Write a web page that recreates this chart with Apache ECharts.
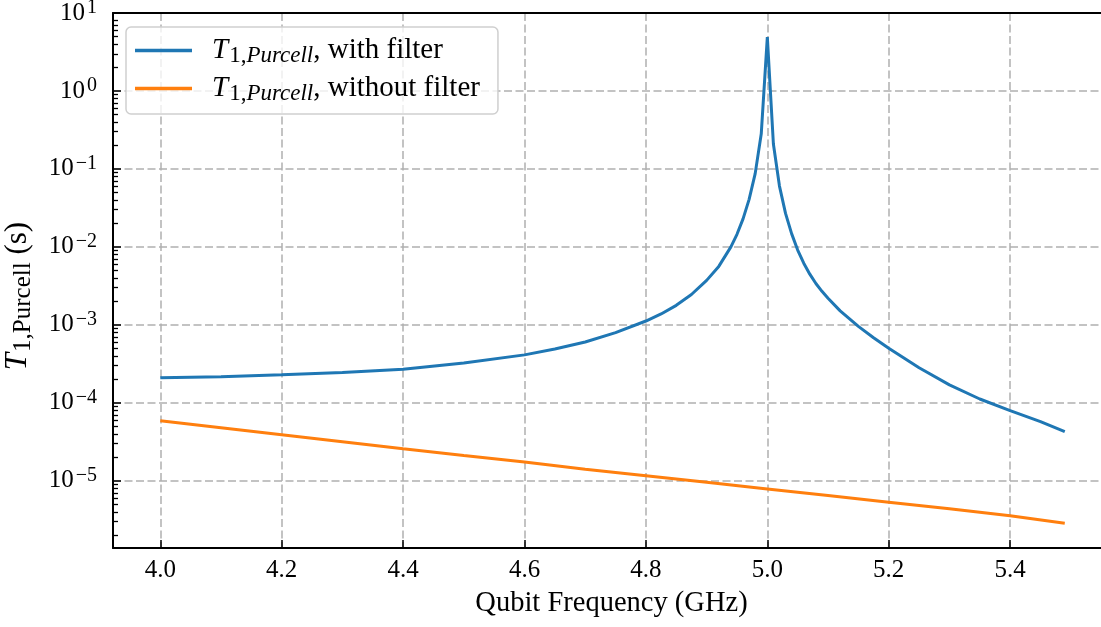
<!DOCTYPE html>
<html>
<head>
<meta charset="utf-8">
<script src="https://cdn.jsdelivr.net/npm/echarts@6/dist/echarts.min.js"></script>
<style>
	html, body { margin: 0; padding: 0; background: #fff; }
	#chart { width: 1101px; height: 627px; }
</style>
</head>
<body>
<div id="chart"></div>
<script>
	// T1 Purcell, with filter (s)
	var filterFreq = [4.0, 4.1, 4.2, 4.3, 4.4, 4.5, 4.6, 4.65, 4.7, 4.75, 4.8, 4.825, 4.85, 4.875, 4.9, 4.92, 4.94, 4.95, 4.96, 4.97, 4.98, 4.99, 5.0,
		5.01, 5.02, 5.03, 5.04, 5.05, 5.06, 5.07, 5.08, 5.09, 5.1, 5.12, 5.15, 5.175, 5.2, 5.25, 5.3, 5.35, 5.4, 5.45, 5.49];
	var filterT1 = [2.09e-4, 2.16e-4, 2.29e-4, 2.45e-4, 2.70e-4, 3.24e-4, 4.12e-4, 4.90e-4, 6.03e-4, 7.94e-4, 1.12e-3, 1.38e-3,
		1.78e-3, 2.45e-3, 3.72e-3, 5.62e-3, 1.0e-2, 1.45e-2, 2.29e-2, 4.07e-2, 8.71e-2, 0.282, 4.9,
		0.209, 0.0603, 0.0269, 0.0148, 9.12e-3, 6.17e-3, 4.47e-3, 3.39e-3, 2.69e-3, 2.19e-3, 1.51e-3, 9.55e-4, 6.84e-4,
		5.01e-4, 2.82e-4, 1.70e-4, 1.12e-4, 7.94e-5, 5.75e-5, 4.27e-5];
	// T1 Purcell, without filter (s)
	var noFilterFreq = [4.0, 4.1, 4.2, 4.3, 4.4, 4.5, 4.6, 4.7, 4.8, 4.9, 5.0, 5.1, 5.2, 5.3, 5.4, 5.49];
	var noFilterT1 = [5.89e-5, 4.79e-5, 3.89e-5, 3.16e-5, 2.57e-5, 2.11e-5, 1.74e-5, 1.41e-5, 1.16e-5, 9.55e-6, 7.85e-6,
		6.46e-6, 5.31e-6, 4.37e-6, 3.55e-6, 2.85e-6];
	// ticks
	var xTicks = [4.0, 4.2, 4.4, 4.6, 4.8, 5.0, 5.2, 5.4];
	var yDecades = [-5, -4, -3, -2, -1, 0, 1];

	var FONT = 'Liberation Serif';
	var X_MIN = 3.9221, X_MAX = 5.5645;
	var Y_MIN = -5.862, Y_MAX = 1;

	function toLog(xs, ys) {
		var out = [];
		for (var i = 0; i < xs.length; i++) {
			out.push([xs[i], Math.log10(ys[i])]);
		}
		return out;
	}

	// minor ticks of the log axis (2..9 x 10^k)
	var minorTicks = [];
	for (var k = -6; k <= 0; k++) {
		for (var m = 2; m <= 9; m++) {
			minorTicks.push(k + Math.log10(m));
		}
	}

	var gridRect = { left: 113, right: -9, top: 13, bottom: 79, outerBoundsMode: 'none', containLabel: false };
	var gridLine = {
		show: true,
		lineStyle: { color: '#b0b0b0', width: 1.5, type: [8, 3.5] }
	};

	var chart = echarts.init(document.getElementById('chart'));
	var options = {
		animation: false,
		grid: [Object.assign({}, gridRect), Object.assign({}, gridRect)],
		legend: {
			left: 126,
			top: 27,
			orient: 'vertical',
			icon: 'rect',
			itemWidth: 57,
			itemHeight: 3.5,
			itemGap: 5,
			padding: [7, 18, 9, 9],
			backgroundColor: 'rgba(255,255,255,0.8)',
			borderColor: '#cfcfcf',
			borderWidth: 1.5,
			borderRadius: 5,
			formatter: function (name) {
				return '{t|T}{s|1,}{si|Purcell}{n|, ' + name + '}';
			},
			textStyle: {
				rich: {
					t: { fontFamily: FONT, fontSize: 29, fontStyle: 'italic', lineHeight: 30, color: '#000', padding: [0, 0, 0, 15] },
					s: { fontFamily: FONT, fontSize: 23, lineHeight: 24, color: '#000', padding: [10, 0, 0, 1] },
					si: { fontFamily: FONT, fontSize: 23, fontStyle: 'italic', lineHeight: 24, color: '#000', padding: [10, 0, 0, 0] },
					n: { fontFamily: FONT, fontSize: 29, lineHeight: 30, color: '#000' }
				}
			}
		},
		xAxis: [{
			type: 'value',
			gridIndex: 0,
			min: X_MIN,
			max: X_MAX,
			name: 'Qubit Frequency (GHz)',
			nameLocation: 'middle',
			nameGap: 41,
			nameTextStyle: { fontFamily: FONT, fontSize: 28.5, color: '#000' },
			axisLine: { show: true, onZero: false, lineStyle: { color: '#000', width: 2 } },
			axisTick: { show: true, inside: true, length: 8, customValues: xTicks, lineStyle: { color: '#000', width: 1.5 } },
			axisLabel: {
				customValues: xTicks,
				margin: 10,
				fontFamily: FONT,
				fontSize: 25,
				color: '#000',
				formatter: function (v) { return v.toFixed(1); }
			},
			splitLine: gridLine
		}, {
			// top spine, drawn over the grid lines
			type: 'value',
			gridIndex: 1,
			position: 'top',
			min: X_MIN,
			max: X_MAX,
			axisLine: { show: true, onZero: false, lineStyle: { color: '#000', width: 2 } },
			axisTick: { show: false },
			axisLabel: { show: false },
			splitLine: { show: false }
		}],
		yAxis: [{
			type: 'value',
			gridIndex: 0,
			position: 'left',
			min: Y_MIN,
			max: Y_MAX,
			name: '{t|T}{s|1,Purcell}{n| (s)}',
			nameLocation: 'middle',
			nameGap: 79,
			nameRotate: 90,
			nameTextStyle: {
				padding: [0, 31, 0, 0],
				rich: {
					t: { fontFamily: FONT, fontSize: 31, fontStyle: 'italic', lineHeight: 32, color: '#000' },
					s: { fontFamily: FONT, fontSize: 25, lineHeight: 26, color: '#000', padding: [10, 0, 0, 1] },
					n: { fontFamily: FONT, fontSize: 31, lineHeight: 32, color: '#000' }
				}
			},
			axisLine: { show: true, onZero: false, lineStyle: { color: '#000', width: 2 } },
			axisTick: { show: true, inside: true, length: 8, customValues: yDecades, lineStyle: { color: '#000', width: 1.5 } },
			axisLabel: {
				customValues: yDecades,
				margin: 16,
				formatter: function (v) {
					return '{b|10}{e|' + (v < 0 ? '\u2212' + (-v) : v) + '}';
				},
				rich: {
					b: { fontFamily: FONT, fontSize: 25, lineHeight: 25, color: '#000' },
					e: { fontFamily: FONT, fontSize: 20, lineHeight: 20, color: '#000', padding: [0, 0, 11, 2] }
				}
			},
			splitLine: gridLine
		}, {
			// minor ticks only (line and labels kept but invisible)
			type: 'value',
			gridIndex: 1,
			position: 'left',
			min: Y_MIN,
			max: Y_MAX,
			axisLine: { show: true, onZero: false, lineStyle: { color: 'rgba(0,0,0,0)', width: 1 } },
			axisTick: { show: true, inside: true, length: 5, customValues: minorTicks, lineStyle: { color: '#000', width: 1.3 } },
			axisLabel: { show: true, customValues: minorTicks, hideOverlap: false, fontSize: 6, color: 'rgba(0,0,0,0)' },
			splitLine: { show: false }
		}],
		series: [{
			name: 'with filter',
			type: 'line',
			xAxisIndex: 0,
			yAxisIndex: 0,
			data: toLog(filterFreq, filterT1),
			showSymbol: false,
			symbol: 'none',
			color: '#1f77b4',
			lineStyle: { width: 3, color: '#1f77b4' }
		}, {
			name: 'without filter',
			type: 'line',
			xAxisIndex: 0,
			yAxisIndex: 0,
			data: toLog(noFilterFreq, noFilterT1),
			showSymbol: false,
			symbol: 'none',
			color: '#ff7f0e',
			lineStyle: { width: 3, color: '#ff7f0e' }
		}]
	};
	chart.setOption(options);
</script>
</body>
</html>
